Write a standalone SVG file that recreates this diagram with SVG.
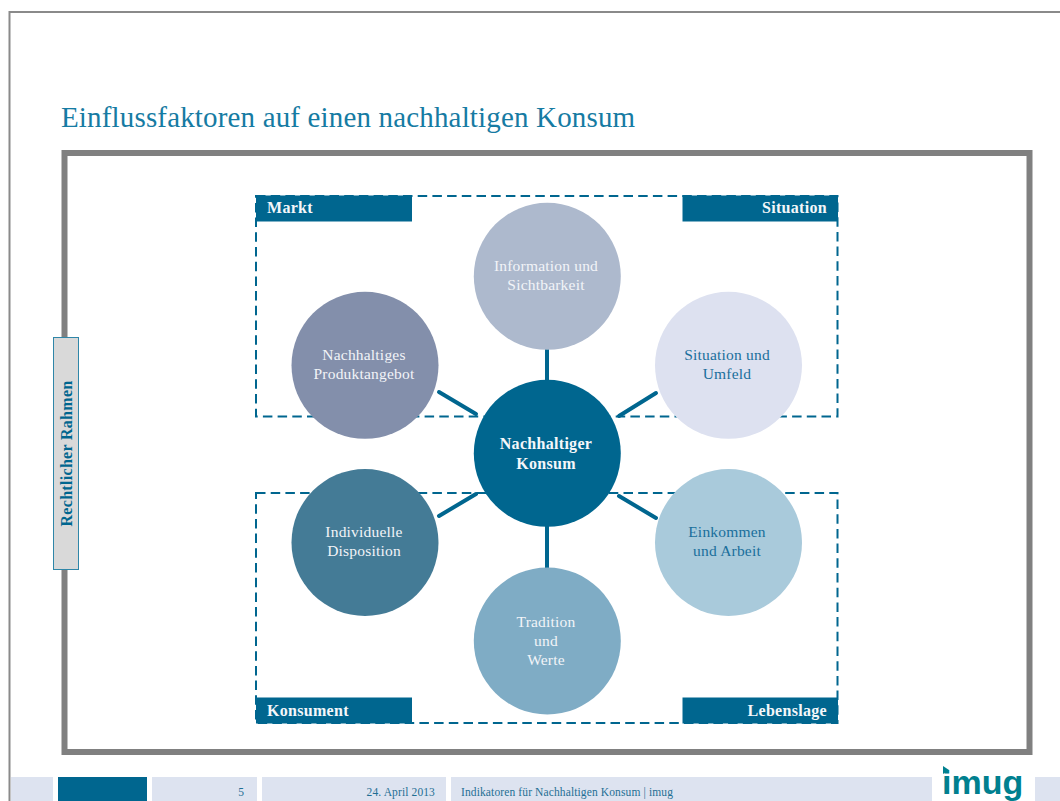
<svg xmlns="http://www.w3.org/2000/svg" width="1060" height="801" viewBox="0 0 1060 801">
<style>
text{font-family:"Liberation Serif","Times New Roman",serif}
.c{font-size:15.500px;letter-spacing:.2px;text-anchor:middle;fill:#f2f4f8}
.d{fill:#1a6f9c;font-size:15.500px;letter-spacing:.2px;text-anchor:middle}
.h{font-size:16px;letter-spacing:.3px;font-weight:bold;fill:#f4f7fa}
.m{font-size:16px;letter-spacing:.3px;font-weight:bold;fill:#f4f7fa;text-anchor:middle}
.bar{fill:#00668f}
.dash{fill:none;stroke:#00668f;stroke-width:2;stroke-dasharray:9.500 5.200}
.spoke{stroke:#00668f;stroke-width:4;stroke-linecap:round}
.f{fill:#dde3f0}
.ft{font-size:11.500px;letter-spacing:.12px;fill:#1f6f94}
</style>
<rect width="1060" height="801" fill="#fff"/>
<path d="M1060 12H9.500V801" fill="none" stroke="#8a8a8a" stroke-width="2"/>
<text x="61" y="127" font-size="29" letter-spacing=".16" fill="#167ba3">Einflussfaktoren auf einen nachhaltigen Konsum</text>
<rect id="frame" x="64.500" y="153" width="965" height="599" fill="none" stroke="#808080" stroke-width="6"/>
<g id="footer">
<rect class="f" x="11" y="777" width="42" height="24"/>
<rect class="bar" x="58" y="777" width="89" height="24"/>
<rect class="f" x="152" y="777" width="105" height="24"/>
<rect class="f" x="262" y="777" width="184" height="24"/>
<rect class="f" x="451" y="777" width="481" height="24"/>
<rect class="f" x="1035" y="777" width="25" height="24"/>
<text class="ft" x="244" y="796" text-anchor="end">5</text>
<text class="ft" x="435" y="796" text-anchor="end">24. April 2013</text>
<text class="ft" x="461" y="796">Indikatoren für Nachhaltigen Konsum | imug</text>
<text x="942" y="794" font-size="34" font-weight="bold" fill="#00808f" style="font-family:'Liberation Sans',Arial,sans-serif">imug</text>
<polygon points="943,766 949,770 943,774" fill="#00808f"/>
</g>
<g id="rahmen">
<rect x="53.500" y="337.500" width="25" height="232" fill="#d9d9d9" stroke="#2f86a8" stroke-width="1"/>
<text transform="translate(71.500 453.500) rotate(-90)" text-anchor="middle" font-size="16" letter-spacing=".3" font-weight="bold" fill="#00668f">Rechtlicher Rahmen</text>
</g>
<g id="connectors">
<rect class="dash" x="256" y="196" width="581.500" height="220.500"/>
<rect class="dash" x="256" y="493" width="581.500" height="230"/>
<line class="spoke" x1="547" y1="348" x2="547" y2="382"/>
<line class="spoke" x1="547" y1="524" x2="547" y2="568"/>
<line class="spoke" x1="439" y1="392" x2="476" y2="414"/>
<line class="spoke" x1="656" y1="393" x2="619" y2="416"/>
<line class="spoke" x1="439" y1="516" x2="476" y2="494"/>
<line class="spoke" x1="656" y1="518" x2="619" y2="496"/>
</g>
<g id="markt"><rect class="bar" x="256" y="195.500" width="156" height="26"/><text class="h" x="267" y="213">Markt</text></g>
<g id="situation"><rect class="bar" x="682.500" y="195.500" width="155.500" height="26"/><text class="h" x="827" y="213" text-anchor="end">Situation</text></g>
<g id="konsument"><rect class="bar" x="256" y="697.500" width="156" height="26"/><text class="h" x="267" y="716">Konsument</text></g>
<g id="lebenslage"><rect class="bar" x="682.500" y="697.500" width="155.500" height="26"/><text class="h" x="827" y="716" text-anchor="end">Lebenslage</text></g>
<g id="center"><circle cx="547.300" cy="453.300" r="73.500" fill="#00668f"/><text class="m" x="546" y="449">Nachhaltiger</text><text class="m" x="546" y="469">Konsum</text></g>
<g id="information"><circle cx="547.300" cy="276.300" r="73.500" fill="#adb9cd"/><text class="c" x="546" y="271">Information und</text><text class="c" x="546" y="290">Sichtbarkeit</text></g>
<g id="produkt"><circle cx="365" cy="365.300" r="73.500" fill="#838fab"/><text class="c" x="364" y="360">Nachhaltiges</text><text class="c" x="364" y="379">Produktangebot</text></g>
<g id="umfeld"><circle cx="728.500" cy="365.300" r="73.500" fill="#dde1f0"/><text class="d" x="727" y="360">Situation und</text><text class="d" x="727" y="379">Umfeld</text></g>
<g id="disposition"><circle cx="365" cy="542.500" r="73.500" fill="#447b96"/><text class="c" x="364" y="537">Individuelle</text><text class="c" x="364" y="556">Disposition</text></g>
<g id="einkommen"><circle cx="728.500" cy="542.500" r="73.500" fill="#a9cadb"/><text class="d" x="727" y="537">Einkommen</text><text class="d" x="727" y="556">und Arbeit</text></g>
<g id="tradition"><circle cx="547.300" cy="641" r="73.500" fill="#7facc5"/><text class="c" x="546" y="627">Tradition</text><text class="c" x="546" y="646">und</text><text class="c" x="546" y="665">Werte</text></g>
</svg>
